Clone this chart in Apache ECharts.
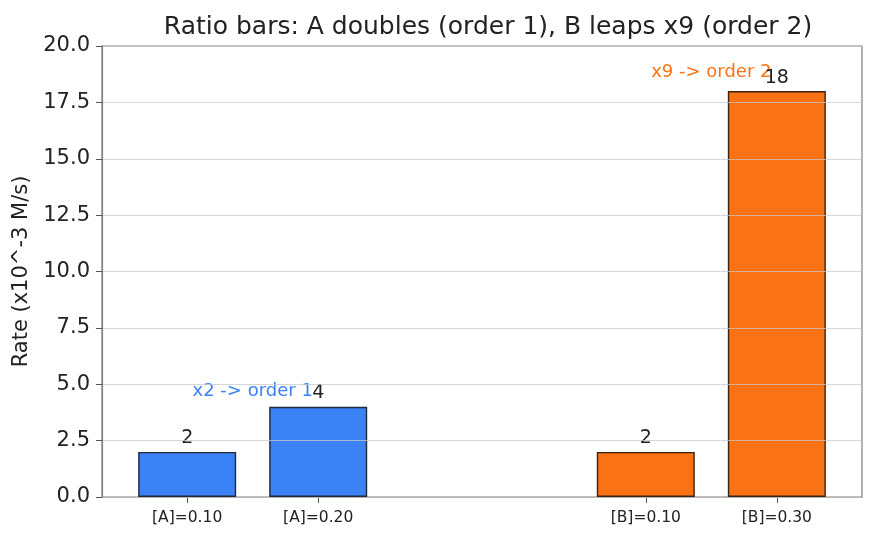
<!DOCTYPE html>
<html>
<head>
<meta charset="utf-8">
<script src="https://cdn.jsdelivr.net/npm/echarts@6/dist/echarts.min.js"></script>
<style>
  html, body { margin: 0; padding: 0; background: #fff; }
  #chart { width: 876px; height: 541px; }
</style>
</head>
<body>
<div id="chart"></div>
<script>
// bar positions on the x scale, and their tick labels
const tickPos = [0, 1, 3.5, 4.5];
const tickLabels = ['[A]=0.10', '[A]=0.20', '[B]=0.10', '[B]=0.30'];

// rates (x10^-3 M/s)
const seriesA = [[0, 2], [1, 4]];
const seriesB = [[3.5, 2], [4.5, 18]];

// annotation text positions
const noteA = { x: 0.5, y: 4.7, text: 'x2 -> order 1' };
const noteB = { x: 4.0, y: 18.85, text: 'x9 -> order 2' };

const font = 'DejaVu Sans';
const chart = echarts.init(document.getElementById('chart'));

const barLabel = {
  show: true,
  position: 'top',
  distance: 4,
  color: '#222',
  fontSize: 19,
  fontFamily: font
};

const option = {
  animation: false,
  textStyle: { fontFamily: font },
  title: {
    text: 'Ratio bars: A doubles (order 1), B leaps x9 (order 2)',
    left: 483,
    textAlign: 'center',
    top: 10,
    textStyle: { fontSize: 25, fontWeight: 'normal', color: '#222', fontFamily: font }
  },
  grid: {
    left: 102, right: 14, top: 46, bottom: 44,
    show: true, borderColor: '#808080', borderWidth: 1.2, backgroundColor: 'transparent'
  },
  xAxis: {
    type: 'value',
    min: -0.65,
    max: 5.15,
    splitLine: { show: false },
    axisLine: { onZero: false, lineStyle: { color: '#808080', width: 1.2 } },
    axisTick: { show: true, customValues: tickPos, length: 6, lineStyle: { color: '#555' } },
    axisLabel: {
      customValues: tickPos,
      margin: 13,
      fontSize: 15.5,
      color: '#222',
      fontFamily: font,
      formatter: function (v) {
        const i = tickPos.indexOf(v);
        return i >= 0 ? tickLabels[i] : '';
      }
    }
  },
  yAxis: {
    type: 'value',
    min: 0,
    max: 20,
    interval: 2.5,
    z: 5,
    name: 'Rate (x10^-3 M/s)',
    nameLocation: 'middle',
    nameGap: 70,
    nameTextStyle: { fontSize: 21, color: '#222', fontFamily: font },
    axisLine: { show: true, onZero: false, lineStyle: { color: '#808080', width: 1.2 } },
    axisTick: { show: true, length: 6, lineStyle: { color: '#555' } },
    axisLabel: {
      fontSize: 21,
      color: '#222',
      margin: 12,
      fontFamily: font,
      formatter: function (v) { return v.toFixed(1); }
    },
    splitLine: { show: true, lineStyle: { color: 'rgba(200,200,200,0.75)', width: 1 } }
  },
  series: [
    {
      type: 'bar',
      data: seriesA,
      barWidth: 98,
      itemStyle: { color: '#3b82f6', borderColor: '#1f2937', borderWidth: 1.4 },
      label: barLabel
    },
    {
      type: 'bar',
      data: seriesB,
      barWidth: 98,
      barGap: '-100%',
      itemStyle: { color: '#f97316', borderColor: '#3b2314', borderWidth: 1.4 },
      label: barLabel
    },
    {
      type: 'scatter',
      symbolSize: 0,
      z: 1,
      itemStyle: { opacity: 1 },
      data: [[noteA.x, noteA.y]],
      label: {
        show: true, position: 'inside', formatter: noteA.text,
        color: '#3b82f6', fontSize: 18, fontFamily: font
      }
    },
    {
      type: 'scatter',
      symbolSize: 0,
      z: 1,
      itemStyle: { opacity: 1 },
      data: [[noteB.x, noteB.y]],
      label: {
        show: true, position: 'inside', formatter: noteB.text,
        color: '#f97316', fontSize: 18, fontFamily: font
      }
    }
  ]
};

chart.setOption(option);
</script>
</body>
</html>
